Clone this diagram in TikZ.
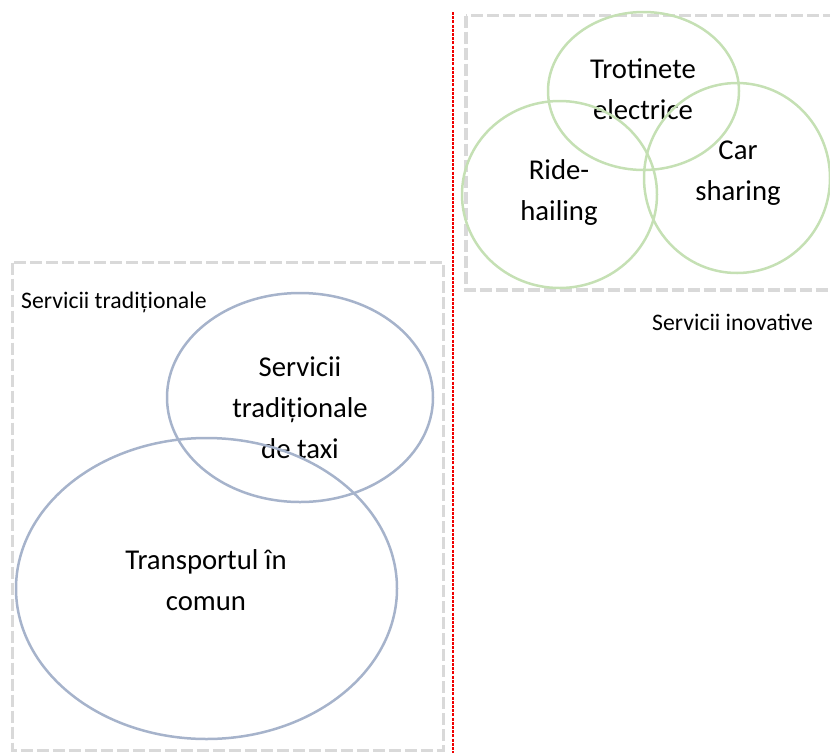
\documentclass[tikz,border=0pt]{standalone}
\usepackage{fontspec}
\setmainfont{Carlito}
\usetikzlibrary{shapes.geometric}
\definecolor{boxgray}{RGB}{217,217,217}
\definecolor{setblue}{RGB}{166,179,203}
\definecolor{setgreen}{RGB}{197,224,180}
\definecolor{splitred}{RGB}{240,0,0}
\begin{document}
\begin{tikzpicture}[x=1pt,y=-1pt,
  groupbox/.style={draw=boxgray, line width=3.5pt, dash pattern=on 12pt off 4pt},
  bluering/.style={draw=setblue, line width=2.5pt, ellipse, inner sep=0pt},
  greenring/.style={draw=setgreen, line width=2.5pt, ellipse, inner sep=0pt},
  % anchor=base of a multi-line node sits on the baseline of its last line
  bigtext/.style={font=\fontsize{28.7}{41}\selectfont, align=center, anchor=base},
  smalltext/.style={font=\fontsize{23.7}{28}\selectfont, anchor=base west, inner sep=0pt}]
\useasboundingbox (0,0) rectangle (830,753);
\clip (0,0) rectangle (830,753);

% group frames and the divider
\draw[groupbox] (12.7,262.7) rectangle (443.3,750.5);
\draw[groupbox] (466,15.7) rectangle (840,290);
\coordinate (divtop) at (453,12);
\coordinate (divbot) at (453,753);
\draw[splitred, line width=1.3pt, dash pattern=on 3pt off 1.2pt] (divtop) -- (divbot);

% group captions
\node[smalltext] (tradlabel) at (21,308) {Servicii tradiționale};
\node[smalltext] (inovlabel) at (652,330) {Servicii inovative};

% traditional services
\node[bigtext] (taxitext) at (300,458) {Servicii\\tradiționale\\de taxi};
\node[bigtext] (transtext) at (206,610) {Transportul în\\comun};
\node[bluering, minimum width=266pt, minimum height=209pt] (taxi) at (300,397.5) {};
\node[bluering, minimum width=381pt, minimum height=301pt] (transport) at (206.5,588.5) {};

% innovative services
\node[bigtext] (trottext) at (643,119) {Trotinete\\electrice};
\node[bigtext] (ridetext) at (559,220) {Ride-\\hailing};
\node[bigtext] (cartext) at (738,200) {Car\\sharing};
\node[greenring, minimum width=191pt, minimum height=158pt] (trot) at (643.5,91) {};
\node[greenring, minimum width=195pt, minimum height=187pt] (ride) at (559.5,194.5) {};
\node[greenring, minimum width=186pt, minimum height=190pt] (car) at (737,178) {};
\end{tikzpicture}
\end{document}
